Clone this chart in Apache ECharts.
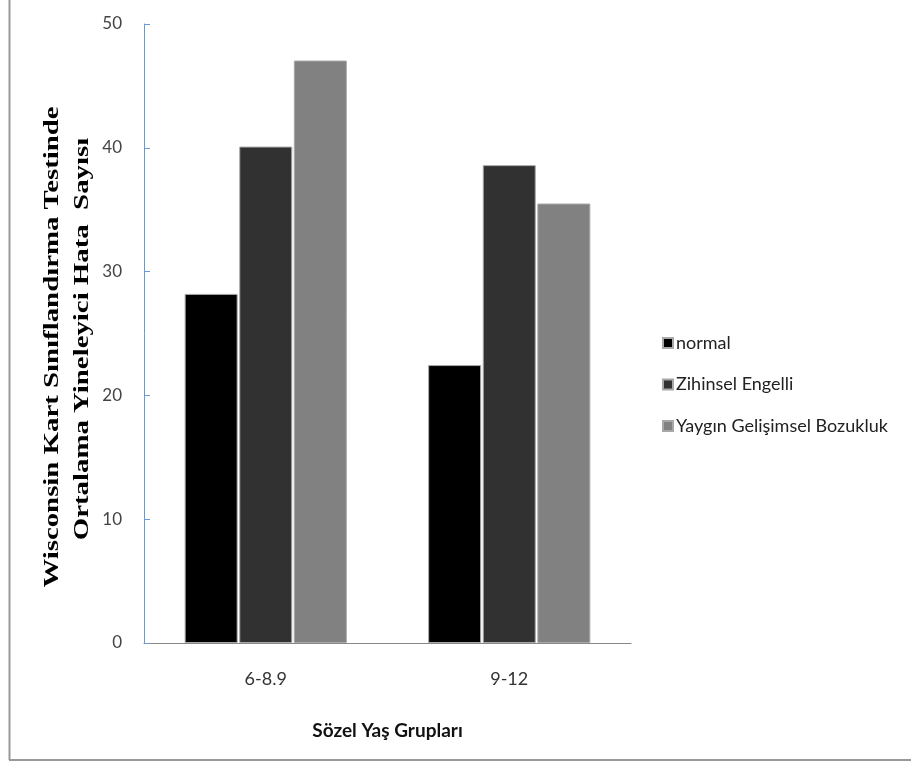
<!DOCTYPE html>
<html>
<head>
<meta charset="utf-8">
<script src="https://cdn.jsdelivr.net/npm/echarts@6/dist/echarts.min.js"></script>
<style>html,body{margin:0;padding:0;background:#fff;}#c{width:911px;height:773px;}</style>
</head>
<body>
<div id="c"></div>
<script>
var categories = ['6-8.9', '9-12'];
var seriesNames = ['normal', 'Zihinsel Engelli', 'Yaygın Gelişimsel Bozukluk'];
var normalValues = [28.2, 22.45];
var zihinselValues = [40.1, 38.6];
var yayginValues = [47.05, 35.5];
var yTicks = [0, 10, 20, 30, 40, 50];
var yTitleLines = ['Wisconsin Kart Sınıflandırma Testinde', 'Ortalama Yineleyici Hata  Sayısı'];
var xTitle = 'Sözel Yaş Grupları';

var colors = ['#000000', '#313131', '#818181'];
var chart = echarts.init(document.getElementById('c'), null, {renderer: 'canvas'});
var labelFont = 'Lato, "Liberation Sans", sans-serif';
var allValues = [normalValues, zihinselValues, yayginValues];
var series = seriesNames.map(function (n, i) {
  return {
    name: n, type: 'bar', data: allValues[i],
    barWidth: 53, barGap: '3%',
    itemStyle: {color: colors[i], borderColor: '#a8a8a8', borderWidth: 1},
    emphasis: {disabled: true}
  };
});
chart.setOption({
  animation: false,
  backgroundColor: '#fff',
  color: colors,
  grid: {left: 144, right: 280, top: 24, bottom: 130, containLabel: false},
  legend: {
    orient: 'vertical', left: 657, top: 329,
    itemWidth: 10, itemHeight: 10, itemGap: 23.5,
    icon: 'rect',
    data: seriesNames,
    textStyle: {fontFamily: labelFont, fontSize: 18, color: '#222', padding: [0, 0, 0, -2]}
  },
  xAxis: {
    type: 'category', data: categories,
    axisLine: {lineStyle: {color: '#888', width: 1}},
    axisTick: {show: false},
    axisLabel: {fontFamily: labelFont, fontSize: 18, color: '#333', margin: 27},
    name: xTitle, nameLocation: 'middle', nameGap: 78,
    nameTextStyle: {fontFamily: labelFont, fontSize: 19, fontWeight: 'bold', color: '#111'}
  },
  yAxis: {
    type: 'value', min: 0, max: 50, interval: 10,
    axisLine: {show: true, lineStyle: {color: '#6a9ad8', width: 1}},
    axisTick: {show: true, inside: true, length: 6, lineStyle: {color: '#6a9ad8'}},
    splitLine: {show: false},
    axisLabel: {fontFamily: labelFont, fontSize: 17, color: '#444', margin: 22,
      formatter: function (v) { return yTicks.indexOf(v) >= 0 ? String(v) : ''; }}
  },
  graphic: [
    {type: 'line', shape: {x1: 9.5, y1: 0, x2: 9.5, y2: 760}, style: {stroke: '#999', lineWidth: 2}},
    {type: 'line', shape: {x1: 9, y1: 760, x2: 911, y2: 760}, style: {stroke: '#999', lineWidth: 2}},
    {type: 'text', x: 63, y: 347, rotation: Math.PI / 2, scaleX: 1.31,
      style: {text: yTitleLines[0], font: 'bold 22px "Liberation Serif", serif', fill: '#000', textAlign: 'center', textVerticalAlign: 'bottom'}},
    {type: 'text', x: 93, y: 339, rotation: Math.PI / 2, scaleX: 1.31,
      style: {text: yTitleLines[1], font: 'bold 22px "Liberation Serif", serif', fill: '#000', textAlign: 'center', textVerticalAlign: 'bottom'}}
  ],
  series: series
});
</script>
</body>
</html>
